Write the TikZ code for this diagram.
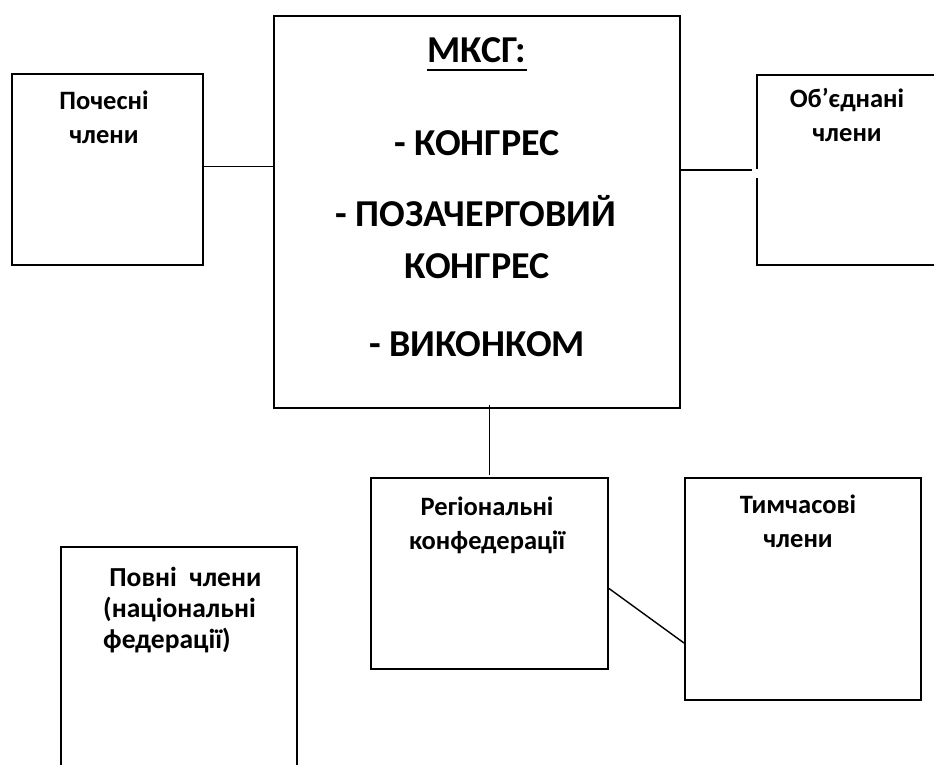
\documentclass[tikz,border=0pt]{standalone}
\usepackage{fontspec}
\setmainfont{Carlito}
\usetikzlibrary{positioning}

\begin{document}
\begin{tikzpicture}[x=1pt, y=-1pt,
  box/.style={draw, line width=2pt, rectangle, inner sep=0pt, anchor=north west},
  bigtxt/.style={font=\fontsize{38}{44}\selectfont\bfseries, inner sep=0pt, anchor=base},
  smalltxt/.style={font=\fontsize{26.5}{34}\selectfont\bfseries, inner sep=0pt, align=center, anchor=base},
  link/.style={line width=1.4pt}]

\useasboundingbox (0,0) rectangle (934,765);
\fill[white] (0,0) rectangle (934,765);

%boxes
\node[box, minimum width=406pt, minimum height=392pt] (mksg) at (273,15) {};
\node[box, minimum width=191pt, minimum height=191pt] (poch) at (11,73) {};
\node[box, minimum width=250pt, minimum height=190pt] (obj) at (756,74) {};
\node[box, minimum width=237pt, minimum height=191pt] (reg) at (370,477) {};
\node[box, minimum width=236pt, minimum height=222pt] (tym) at (684,477) {};
\node[box, minimum width=236pt, minimum height=260pt] (povni) at (60,546) {};

%main box text
\node[bigtxt] (title) at (477,63) {МКСГ:};
\draw[line width=2.4pt] ([yshift=-7pt]title.base west) -- ([yshift=-7pt]title.base east);
\node[bigtxt] (kongres) at (477,156) {- КОНГРЕС};
\node[bigtxt] (poza) at (476,226) {- ПОЗАЧЕРГОВИЙ};
\node[bigtxt] (pozakongres) at (477,278) {КОНГРЕС};
\node[bigtxt] (vykonkom) at (477,356) {- ВИКОНКОМ};

%member boxes text (base = last line)
\node[smalltxt] (pochtxt) at (104,143) {Почесні\\члени};
\node[smalltxt] (objtxt) at (847,142) {Об’єднані\\члени};
\node[smalltxt] (regtxt) at (487,549) {Регіональні\\конфедерації};
\node[smalltxt] (tymtxt) at (798,547) {Тимчасові\\члени};
\node[smalltxt, align=left, anchor=base west, font=\fontsize{27.5}{31}\selectfont\bfseries] (povnitxt) at (103,648) {\ Повні\ \ члени\\(національні\\федерації)};

%links
\draw[link] ([yshift=3pt]poch.east) -- ([yshift=3pt]poch.east -| mksg.west);
\draw[link] (mksg.east |- obj.west) -- ([xshift=-4pt]obj.west);
\draw[white, line width=3pt] ([yshift=1pt]obj.west) -- ([yshift=-8pt]obj.west);
\draw[link] ([yshift=4pt]reg.north |- mksg.south) -- ([yshift=2pt]reg.north);
\draw[link] ([yshift=-15pt]reg.east) -- ([yshift=-54pt]tym.west);

\end{tikzpicture}
\end{document}
